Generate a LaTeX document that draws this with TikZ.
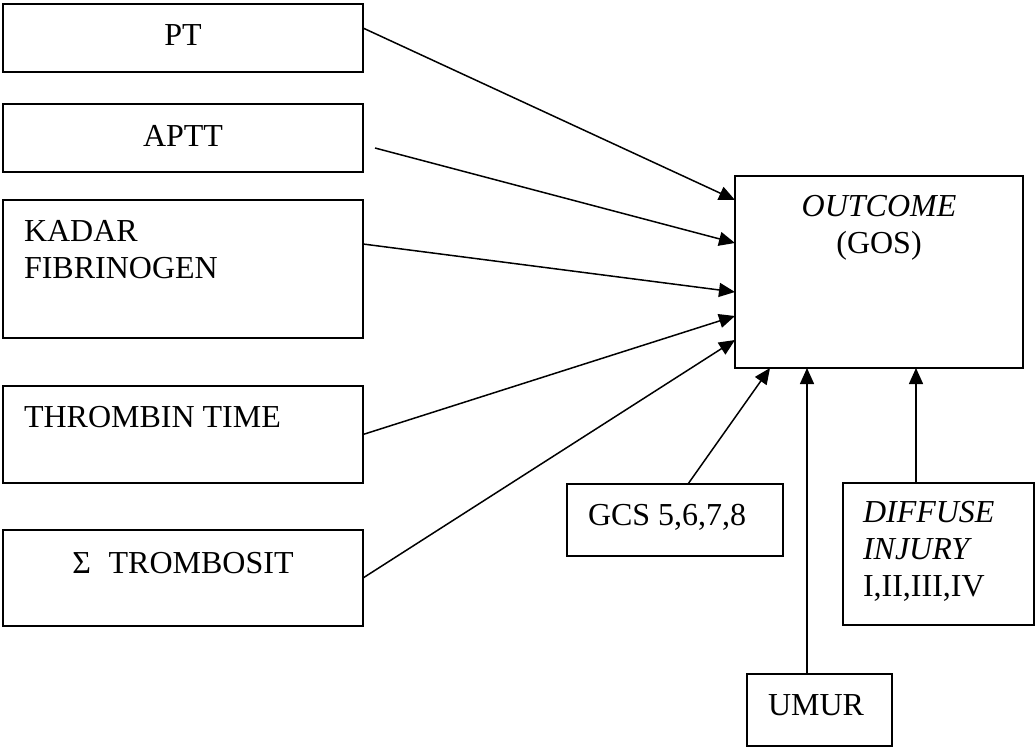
\documentclass[tikz,border=0pt]{standalone}
\usepackage{fontspec}
\setmainfont{Liberation Serif}
\usetikzlibrary{arrows.meta}
\begin{document}
\begin{tikzpicture}[x=1pt,y=-1pt,
  box/.style={draw, line width=1.7pt, inner sep=0pt, outer sep=0pt, rectangle},
  lbl/.style={inner sep=0pt, outer sep=0pt, font=\fontsize{32}{37}\selectfont},
  link/.style={line width=1.5pt, -{Triangle[length=16pt,width=14pt]}}]
\useasboundingbox (0,0) rectangle (1036,747);

% input variables on the left
\node[box, minimum width=360pt, minimum height=68pt]  (pt)        at (183,38)    {};
\node[box, minimum width=360pt, minimum height=68pt]  (aptt)      at (183,138)   {};
\node[box, minimum width=360pt, minimum height=138pt] (kadar)     at (183,269)   {};
\node[box, minimum width=360pt, minimum height=97pt]  (thrombin)  at (183,434.5) {};
\node[box, minimum width=360pt, minimum height=96pt]  (trombosit) at (183,578)   {};

% outcome and the other factors
\node[box, minimum width=288pt, minimum height=192pt] (outcome) at (879,272)   {};
\node[box, minimum width=216pt, minimum height=72pt]  (gcs)     at (675,520)   {};
\node[box, minimum width=191pt, minimum height=142pt] (diffuse) at (938.5,554) {};
\node[box, minimum width=145pt, minimum height=72pt]  (umur)    at (819.5,710) {};

% texts
\node[lbl, anchor=base] (tpt)   at (183,45)  {PT};
\node[lbl, anchor=base] (taptt) at (183,146) {APTT};
\node[lbl, anchor=base west] (tkadar1) at (24,241) {KADAR};
\node[lbl, anchor=base west] (tkadar2) at (24,278) {FIBRINOGEN};
\node[lbl, anchor=base west] (tthrombin) at (24,427) {THROMBIN TIME};
\node[lbl, anchor=base] (ttrombosit) at (183,573) {Σ\hspace{0.55em}TROMBOSIT};
\node[lbl, anchor=base] (tout1) at (879,216) {\itshape OUTCOME};
\node[lbl, anchor=base] (tout2) at (879,253) {(GOS)};
\node[lbl, anchor=base west] (tgcs) at (588,525) {GCS 5,6,7,8};
\node[lbl, anchor=base west] (tdif1) at (863,522) {\itshape DIFFUSE};
\node[lbl, anchor=base west] (tdif2) at (863,559) {\itshape INJURY};
\node[lbl, anchor=base west] (tdif3) at (863,596) {I,II,III,IV};
\node[lbl, anchor=base] (tumur) at (816,715) {UMUR};

% connectors into the outcome box
\draw[link] ([yshift=10pt]pt.east) -- ([yshift=72pt]outcome.west);
\draw[link] ([xshift=12pt,yshift=-10pt]aptt.east) -- ([yshift=29pt]outcome.west);
\draw[link] ([yshift=25pt]kadar.east) -- ([yshift=-20pt]outcome.west);
\draw[link] (thrombin.east) -- ([yshift=-44pt]outcome.west);
\draw[link] (trombosit.east) -- ([yshift=-68pt]outcome.west);
\draw[link] ([xshift=13pt]gcs.north) -- ([xshift=-109pt]outcome.south);
\draw[link] ([xshift=-12.5pt]umur.north) -- ([xshift=-72pt]outcome.south);
\draw[link] ([xshift=-22.5pt]diffuse.north) -- ([xshift=37pt]outcome.south);
\end{tikzpicture}
\end{document}
